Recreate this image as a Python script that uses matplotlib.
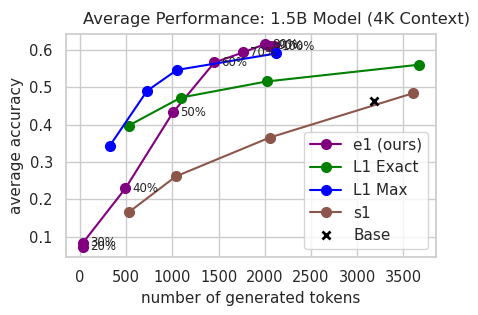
import matplotlib
matplotlib.use("Agg")
import matplotlib.pyplot as plt
import seaborn as sns

sns.set_theme(style="whitegrid", context="notebook")
plt.rcParams['font.family'] = ['DejaVu Sans']

# e1 (ours)
e1_tokens = [30, 32, 492, 1006, 1455, 1767, 2001, 2055, 2105]
e1_acc = [0.073, 0.084, 0.230, 0.433, 0.567, 0.594, 0.616, 0.612, 0.610]
e1_labels = ["20%", "30%", "40%", "50%", "60%", "70%", "80%", "90%", "100%"]

# L1 Exact
exact_tokens = [528, 1093, 2019, 3671]
exact_acc = [0.398, 0.473, 0.516, 0.561]

# L1 Max
max_tokens = [323, 726, 1050, 2120]
max_acc = [0.344, 0.491, 0.547, 0.591]

# s1
s1_tokens = [528, 1039, 2055, 3610]
s1_acc = [0.166, 0.262, 0.366, 0.485]

# Base
base_tokens = [3179]
base_acc = [0.4626]

xticks = [0, 500, 1000, 1500, 2000, 2500, 3000, 3500]

fig, ax = plt.subplots(figsize=(4.78, 3.15), dpi=100)
fig.subplots_adjust(left=0.138, right=0.912, top=0.892, bottom=0.184)

ax.plot(e1_tokens, e1_acc, '-o', color='purple', ms=7, label='e1 (ours)')
for x, y, t in zip(e1_tokens, e1_acc, e1_labels):
    ax.annotate(t, (x, y), xytext=(5, 0), textcoords='offset points',
                fontsize=8.5, va='center', color='#222222')
ax.plot(exact_tokens, exact_acc, '-o', color='green', ms=7, label='L1 Exact')
ax.plot(max_tokens, max_acc, '-o', color='blue', ms=7, label='L1 Max')
ax.plot(s1_tokens, s1_acc, '-o', color='tab:brown', ms=7, label='s1')
ax.plot(base_tokens, base_acc, 'x', color='black', markersize=6, mew=2, label='Base')

ax.set_xticks(xticks)
ax.tick_params(labelsize=10.5)
ax.set_xlabel('number of generated tokens', fontsize=11)
ax.set_ylabel('average accuracy', fontsize=11)
ax.set_title('Average Performance: 1.5B Model (4K Context)', fontsize=11.8, x=0.568, pad=7)
ax.legend(loc='lower right', fontsize=11)

plt.savefig('out.png', dpi=100)
